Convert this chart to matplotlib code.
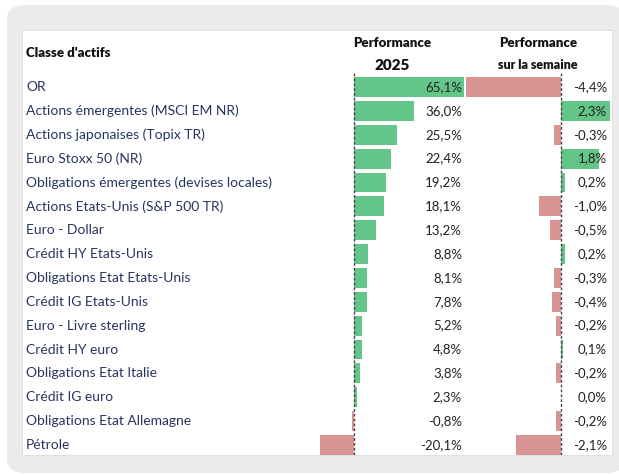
import matplotlib.pyplot as plt
import matplotlib.transforms as mtransforms
from matplotlib.patches import FancyBboxPatch, Rectangle

assets = ['OR', 'Actions émergentes (MSCI EM NR)', 'Actions japonaises (Topix TR)',
          'Euro Stoxx 50 (NR)', 'Obligations émergentes (devises locales)',
          'Actions Etats-Unis (S&P 500 TR)', 'Euro - Dollar', 'Crédit HY Etats-Unis',
          'Obligations Etat Etats-Unis', 'Crédit IG Etats-Unis', 'Euro - Livre sterling',
          'Crédit HY euro', 'Obligations Etat Italie', 'Crédit IG euro',
          'Obligations Etat Allemagne', 'Pétrole']
perf_2025 = [65.1, 36.0, 25.5, 22.4, 19.2, 18.1, 13.2, 8.8, 8.1, 7.8, 5.2, 4.8, 3.8, 2.3, -0.8, -20.1]
perf_week = [-4.4, 2.3, -0.3, 1.8, 0.2, -1.0, -0.5, 0.2, -0.3, -0.4, -0.2, 0.1, -0.2, 0.0, -0.2, -2.1]

GREEN = '#63c587'
RED = '#d99594'
NAVY = '#27345e'
W, H = 619, 475

plt.rcParams['font.family'] = ['Lato', 'DejaVu Sans']

fig = plt.figure(figsize=(W / 100, H / 100), dpi=100)
fig.patch.set_facecolor('white')

def px(x0, y0, x1, y1):
    # pixel box (top-left origin) -> figure fraction rect
    return [x0 / W, 1 - y1 / H, (x1 - x0) / W, (y1 - y0) / H]

# gray frame and white panel
r = px(7, 5, 625, 473)
fig.patches.append(FancyBboxPatch((r[0], r[1]), r[2], r[3], boxstyle='round,pad=0,rounding_size=0.03',
                                  transform=fig.transFigure, facecolor='#ebebeb', edgecolor='none', zorder=-2))
r = px(22, 30, 612, 455)
fig.patches.append(Rectangle((r[0], r[1]), r[2], r[3], transform=fig.transFigure,
                             facecolor='white', edgecolor='#dddddd', lw=0.6, zorder=-1))

n = len(assets)
ylim = (15.42, -0.587)
top_px, bot_px = 73, 455

ax1 = fig.add_axes(px(318.9, top_px, 464.2, bot_px))
ax2 = fig.add_axes(px(463.95, top_px, 612.3, bot_px))
for ax in (ax1, ax2):
    ax.set_ylim(*ylim)
    ax.axis('off')
    ax.patch.set_alpha(0)
    ax.set_zorder(2)
ax1.set_xlim(-20.5, 65.5)
ax2.set_xlim(-4.5, 2.4)

ys = list(range(n))
ax1.barh(ys, perf_2025, height=0.83, color=[GREEN if v >= 0 else RED for v in perf_2025], zorder=2)
ax2.barh(ys, perf_week, height=0.83, color=[GREEN if v >= 0 else RED for v in perf_week], zorder=2)
ax1.axvline(0, color='#444444', lw=1.0, ls=(0, (2, 1.5)), zorder=3)
ax2.axvline(0, color='#444444', lw=1.0, ls=(0, (2, 1.5)), zorder=3)

for y, v in zip(ys, perf_2025):
    ax1.text(64.2, y, f'{v:.1f}%'.replace('.', ','), ha='right', va='center',
             fontsize=9.5, color='#222222', zorder=4)
for y, v in zip(ys, perf_week):
    ax2.text(2.15, y, f'{v:.1f}%'.replace('.', ','), ha='right', va='center',
             fontsize=9.5, color='#222222', zorder=4)

# row labels
tr = mtransforms.blended_transform_factory(fig.transFigure, ax1.transData)
for y, name in zip(ys, assets):
    ax1.text(26 / W, y, name, transform=tr, ha='left', va='center',
             fontsize=10, color=NAVY, clip_on=False)

# headers
hdr = dict(ha='center', va='center', fontweight='heavy', color='#111111')
fig.text(26 / W, 1 - 53 / H, "Classe d'actifs", ha='left', va='center', fontsize=9.5,
         fontweight='heavy', color='#111111')
fig.text(392 / W, 1 - 43 / H, 'Performance', fontsize=9.5, **hdr)
fig.text(392 / W, 1 - 65 / H, '2025', fontsize=11, **hdr)
fig.text(538 / W, 1 - 43 / H, 'Performance', fontsize=9.5, **hdr)
fig.text(538 / W, 1 - 65 / H, 'sur la semaine', fontsize=9, **hdr)

fig.savefig('out.png', dpi=100, facecolor=fig.get_facecolor())
